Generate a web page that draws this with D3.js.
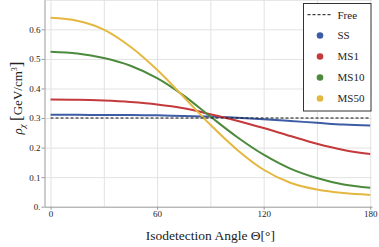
<!DOCTYPE html>
<html>
<head>
<meta charset="utf-8">
<script src="https://cdn.jsdelivr.net/npm/d3@7"></script>
<style>
  body { margin: 0; background: #fff; }
  svg { display: block; font-family: "Liberation Serif", "Times New Roman", serif; }
  .grid line { stroke: #e2e2e2; stroke-width: 1; }
  .grid path { display: none; }
  .axis path, .axis line { stroke: #999; }
  .axis text { fill: #222; font-size: 9px; font-family: "Liberation Serif", serif; }
</style>
</head>
<body>
<div id="chart-area"></div>
<script>
// angles (degrees) where the curves were read
var angles = [0, 15, 30, 45, 60, 75, 90, 105, 120, 135, 150, 165, 180];

// density in GeV/cm^3 for each model
var ss   = [0.311, 0.311, 0.310, 0.310, 0.309, 0.307, 0.305, 0.301, 0.296, 0.290, 0.284, 0.278, 0.275];
var ms1  = [0.363, 0.362, 0.359, 0.354, 0.346, 0.333, 0.313, 0.291, 0.266, 0.239, 0.213, 0.192, 0.178];
var ms10 = [0.524, 0.518, 0.503, 0.477, 0.435, 0.376, 0.305, 0.236, 0.176, 0.129, 0.097, 0.075, 0.064];
var ms50 = [0.639, 0.629, 0.599, 0.541, 0.463, 0.371, 0.277, 0.193, 0.125, 0.081, 0.058, 0.046, 0.040];
var freeLevel = 0.3;

var seriesNames = ["SS", "MS1", "MS10", "MS50"];
var seriesColors = ["#3d5ca6", "#c4393c", "#4c8a3d", "#e4b840"];
var seriesValues = [ss, ms1, ms10, ms50];

var xTicks = [0, 60, 120, 180];
var xGrid = [0, 30, 60, 90, 120, 150, 180];
var yTicks = [0, 0.1, 0.2, 0.3, 0.4, 0.5, 0.6];
var yGrid = [0.1, 0.2, 0.3, 0.4, 0.5, 0.6, 0.7];

var W = 379, H = 247;

var svg = d3.select("#chart-area")
    .append("svg")
    .attr("width", W)
    .attr("height", H);

var x = d3.scaleLinear().domain([-3.4, 181]).range([44.5, 372]);
var y = d3.scaleLinear().domain([0, 0.7]).range([206.7, -0.2]);

// grid lines
svg.append("g")
    .attr("class", "grid")
    .attr("transform", "translate(0," + y(0) + ")")
    .call(d3.axisBottom(x).tickValues(xGrid).tickSize(-(y(0) - y(0.7))).tickFormat(""));

svg.append("g")
    .attr("class", "grid")
    .attr("transform", "translate(" + x(-3.4) + ",0)")
    .call(d3.axisLeft(y).tickValues(yGrid).tickSize(-(x(181) - x(-3.4))).tickFormat(""));

// axes
svg.append("g")
    .attr("class", "axis")
    .attr("transform", "translate(0," + y(0) + ")")
    .call(d3.axisBottom(x).tickValues(xTicks).tickSize(3).tickPadding(1).tickSizeOuter(0));

svg.append("g")
    .attr("class", "axis")
    .attr("transform", "translate(" + x(-3.4) + ",0)")
    .call(d3.axisLeft(y).tickValues(yTicks).tickSize(3).tickPadding(1).tickSizeOuter(0)
        .tickFormat(function(d) { return d === 0 ? "0." : d3.format(".1f")(d); }));

// curves
var line = d3.line()
    .x(function(d) { return x(d[0]); })
    .y(function(d) { return y(d[1]); })
    .curve(d3.curveCatmullRom.alpha(0.5));

seriesValues.forEach(function(vals, i) {
    svg.append("path")
        .datum(angles.map(function(a, j) { return [a, vals[j]]; }))
        .attr("fill", "none")
        .attr("stroke", seriesColors[i])
        .attr("stroke-width", 2)
        .attr("d", line);
});

// free case, dashed
svg.append("line")
    .attr("x1", x(0)).attr("x2", x(180))
    .attr("y1", y(freeLevel)).attr("y2", y(freeLevel))
    .attr("stroke", "#111")
    .attr("stroke-width", 1.1)
    .attr("stroke-dasharray", "3,2");

// axis titles
svg.append("text")
    .attr("x", (x(0) + x(180)) / 2)
    .attr("y", 240)
    .attr("text-anchor", "middle")
    .style("font-size", "13.5px")
    .attr("fill", "#222")
    .text("Isodetection Angle \u0398[\u00b0]");

var ylab = svg.append("text")
    .attr("transform", "translate(21.5,98) rotate(-90)")
    .attr("text-anchor", "middle")
    .style("font-size", "13px")
    .attr("fill", "#222");
ylab.append("tspan").style("font-style", "italic").text("\u03c1");
ylab.append("tspan").style("font-style", "italic").style("font-size", "9px").attr("dy", 3).text("\u03c7");
ylab.append("tspan").attr("dy", -3).text(" ");
ylab.append("tspan").style("font-size", "17px").text("[");
ylab.append("tspan").text("GeV/cm");
ylab.append("tspan").style("font-size", "8px").attr("dy", -5).text("3");
ylab.append("tspan").attr("dy", 5).style("font-size", "17px").text("]");

// legend
var legend = svg.append("g").attr("class", "legend");
legend.append("rect")
    .attr("x", 303.5).attr("y", 3.5)
    .attr("width", 67.5).attr("height", 107.5)
    .attr("fill", "#fff")
    .attr("stroke", "#333")
    .attr("stroke-width", 1);

legend.append("line")
    .attr("x1", 307.5).attr("x2", 332)
    .attr("y1", 14.7).attr("y2", 14.7)
    .attr("stroke", "#111")
    .attr("stroke-dasharray", "3,2");
legend.append("text")
    .attr("x", 337.5).attr("y", 18.5)
    .style("font-size", "11px")
    .attr("fill", "#222")
    .text("Free");

seriesNames.forEach(function(name, i) {
    var ly = 35.5 + i * 21;
    legend.append("circle")
        .attr("cx", 320).attr("cy", ly)
        .attr("r", 3.3)
        .attr("fill", seriesColors[i]);
    legend.append("text")
        .attr("x", 337.5).attr("y", ly + 3.8)
        .style("font-size", "11px")
        .attr("fill", "#222")
        .text(name);
});
</script>
</body>
</html>
